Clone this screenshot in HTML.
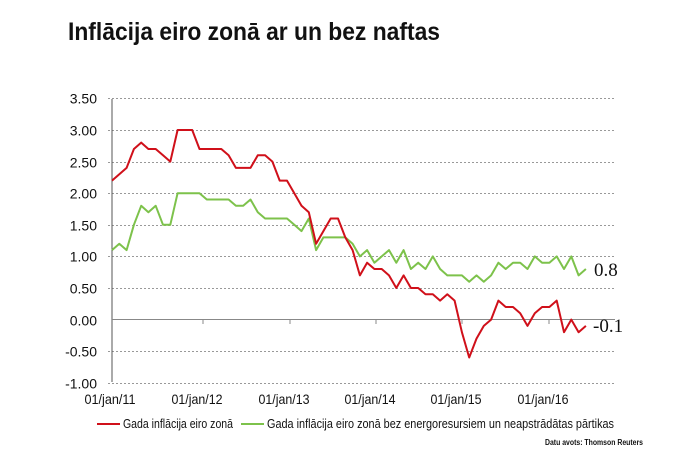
<!DOCTYPE html>
<html><head><meta charset="utf-8"><style>
html,body{margin:0;padding:0;background:#fff;}
svg{display:block;}
text{font-family:"Liberation Sans Narrow","Liberation Sans",sans-serif;fill:#111;}
text.w{font-family:"Liberation Sans",sans-serif;}
text.s{font-family:"Liberation Serif",serif;}
</style></head><body>
<svg id="s" width="699" height="454" viewBox="0 0 699 454" xmlns="http://www.w3.org/2000/svg">
<text x="68" y="40" font-size="25" font-weight="bold" textLength="372" lengthAdjust="spacingAndGlyphs">Inflācija eiro zonā ar un bez naftas</text>
<g id="grid" stroke="#999" stroke-width="1" stroke-dasharray="2,2"></g>
<line x1="112" y1="99" x2="112" y2="382" stroke="#555" stroke-width="1"/>
<line x1="112" y1="319.5" x2="615" y2="319.5" stroke="#888" stroke-width="1"/>
<g id="ticks" stroke="#888"></g>
<g id="ylab" font-size="14" text-anchor="end"></g>
<g id="xlab" font-size="14" text-anchor="middle"></g>
<polyline id="g" fill="none" stroke="#7dc24b" stroke-width="2" stroke-linejoin="round"/>
<polyline id="r" fill="none" stroke="#d0101a" stroke-width="2" stroke-linejoin="round"/>
<text class="s" x="594" y="276" font-size="19">0.8</text>
<text class="s" x="593" y="332" font-size="19">-0.1</text>
<line x1="97" y1="424" x2="120" y2="424" stroke="#d0101a" stroke-width="2"/>
<text x="123" y="428" font-size="13" textLength="110" lengthAdjust="spacingAndGlyphs">Gada inflācija eiro zonā</text>
<line x1="241" y1="424" x2="264" y2="424" stroke="#7dc24b" stroke-width="2"/>
<text x="267" y="428" font-size="13" textLength="347" lengthAdjust="spacingAndGlyphs">Gada inflācija eiro zonā bez energoresursiem un neapstrādātas pārtikas</text>
<text x="545" y="445" font-size="8" font-weight="bold" textLength="98" lengthAdjust="spacingAndGlyphs">Datu avots: Thomson Reuters</text>
</svg>
<script>
var NS="http://www.w3.org/2000/svg";
function Y(v){return 319.6-v*63.2;}
function X(i){return 112+i*7.29;}
function el(p,t,a,txt){var e=document.createElementNS(NS,t);for(var k in a)e.setAttribute(k,a[k]);if(txt)e.textContent=txt;document.getElementById(p).appendChild(e);}
for(var v=-1;v<=3.5;v+=0.5){var y=Math.round(Y(v))+0.5;if(Math.abs(v)>0.01)el("grid","line",{x1:108,x2:615,y1:y,y2:y});
el("ylab","text",{x:97,y:y+5,"class":"w"},v.toFixed(2));}
var xs=[110,197,284,370,456,543],lb=["01/jan/11","01/jan/12","01/jan/13","01/jan/14","01/jan/15","01/jan/16"];
for(var i=0;i<6;i++){el("xlab","text",{x:xs[i],y:404,textLength:51,lengthAdjust:"spacingAndGlyphs"},lb[i]);
if(i>0)el("ticks","line",{x1:xs[i]+6,x2:xs[i]+6,y1:319,y2:324});}
var r=[2.2,2.3,2.4,2.7,2.8,2.7,2.7,2.6,2.5,3.0,3.0,3.0,2.7,2.7,2.7,2.7,2.6,2.4,2.4,2.4,2.6,2.6,2.5,2.2,2.2,2.0,1.8,1.7,1.2,1.4,1.6,1.6,1.3,1.1,0.7,0.9,0.8,0.8,0.7,0.5,0.7,0.5,0.5,0.4,0.4,0.3,0.4,0.3,-0.2,-0.6,-0.3,-0.1,0.0,0.3,0.2,0.2,0.1,-0.1,0.1,0.2,0.2,0.3,-0.2,0.0,-0.2,-0.1];
var g=[1.1,1.2,1.1,1.5,1.8,1.7,1.8,1.5,1.5,2.0,2.0,2.0,2.0,1.9,1.9,1.9,1.9,1.8,1.8,1.9,1.7,1.6,1.6,1.6,1.6,1.5,1.4,1.6,1.1,
1.3,1.3,1.3,1.3,1.2,1.0,1.1,0.9,1.0,1.1,0.9,1.1,0.8,0.9,0.8,1.0,0.8,0.7,0.7,0.7,0.6,0.7,0.6,0.7,0.9,0.8,0.9,0.9,0.8,1.0,0.9,0.9,1.0,0.8,1.0,0.7,0.8];
function pts(a){return a.map(function(v,i){return X(i).toFixed(1)+","+Y(v).toFixed(1);}).join(" ");}
document.getElementById("r").setAttribute("points",pts(r));
document.getElementById("g").setAttribute("points",pts(g));
</script>
</body></html>
